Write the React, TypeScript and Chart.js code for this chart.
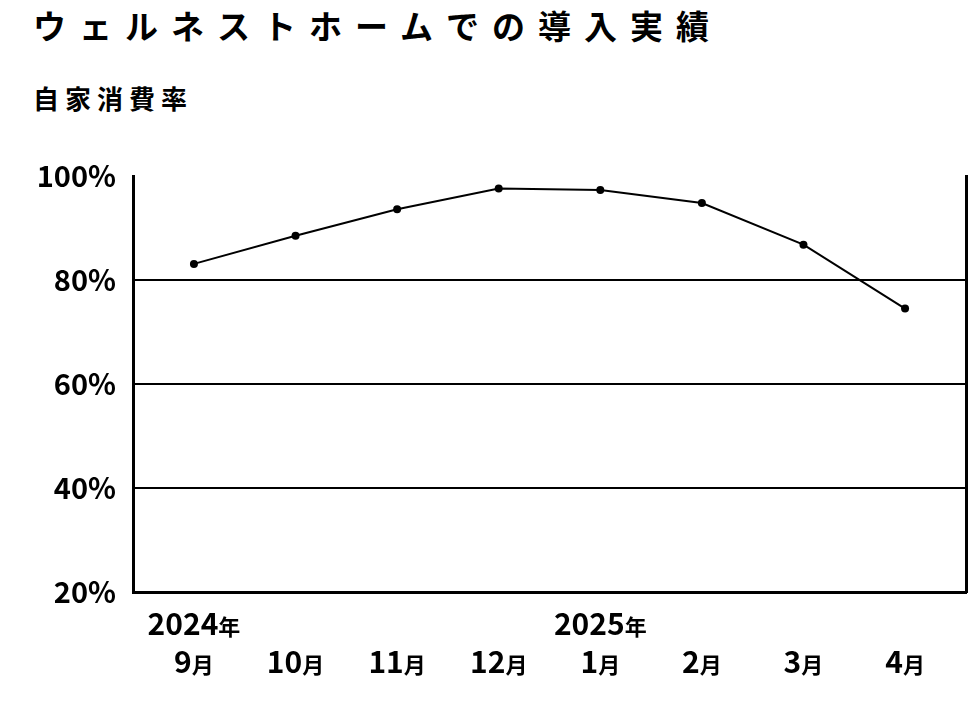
import React, { useEffect, useRef } from "react";
import { Chart, registerables } from "chart.js";

Chart.register(...registerables);

const titleText = "ウェルネストホームでの導入実績";
const subtitleText = "自家消費率";
const monthLabels = ["9", "10", "11", "12", "1", "2", "3", "4"];
const yearLabels = ["2024", "", "", "", "2025", "", "", ""];
const selfConsumption = [83.1, 88.5, 93.6, 97.6, 97.3, 94.8, 86.8, 74.5];
const yTicks = [20, 40, 60, 80, 100];

const FONT = '"Noto Sans CJK JP", "Noto Sans", sans-serif';

export default function App() {
  const ref = useRef<HTMLCanvasElement | null>(null);

  useEffect(() => {
    document.body.style.margin = "0";
    const canvas = ref.current;
    if (!canvas) return;

    const labelPlugin = {
      id: "mixedLabels",
      afterDraw(chart: any) {
        const ctx = chart.ctx;
        const xs = chart.scales.x;
        ctx.save();
        ctx.fillStyle = "#000";
        ctx.textBaseline = "alphabetic";
        const drawMixed = (num: string, unit: string, cx: number, base: number) => {
          ctx.font = `bold 30px ${FONT}`;
          const w1 = ctx.measureText(num).width;
          ctx.font = `bold 22px ${FONT}`;
          const w2 = ctx.measureText(unit).width;
          const start = cx - (w1 + w2) / 2;
          ctx.font = `bold 30px ${FONT}`;
          ctx.textAlign = "left";
          ctx.fillText(num, start, base);
          ctx.font = `bold 22px ${FONT}`;
          ctx.fillText(unit, start + w1, base);
        };
        monthLabels.forEach((m, i) => {
          const cx = xs.getPixelForValue(i);
          if (yearLabels[i]) drawMixed(yearLabels[i], "年", cx, 635);
          drawMixed(m, "月", cx, 673);
        });
        ctx.restore();
      },
    };

    const chart = new Chart(canvas, {
      type: "line",
      data: {
        datasets: [
          {
            data: selfConsumption.map((v, i) => ({ x: i, y: v })),
            borderColor: "#000",
            borderWidth: 2,
            backgroundColor: "#000",
            pointBackgroundColor: "#000",
            pointBorderColor: "#000",
            pointRadius: 4,
            pointBorderWidth: 0,
            tension: 0,
            yAxisID: "y",
          },
        ],
      },
      options: {
        animation: false,
        responsive: false,
        maintainAspectRatio: false,
        layout: { padding: { top: 176, right: 2, bottom: 0, left: 0 }, autoPadding: false },
        plugins: { legend: { display: false }, tooltip: { enabled: false }, title: { display: false } },
        scales: {
          x: {
            type: "linear",
            min: -0.6,
            max: 7.6,
            grid: { display: false },
            border: { display: true, color: "#000", width: 3 },
            ticks: { display: false },
            afterFit: (axis: any) => {
              axis.height = 134;
            },
          },
          y: {
            type: "linear",
            position: "left",
            min: yTicks[0],
            max: yTicks[yTicks.length - 1],
            afterBuildTicks: (axis: any) => {
              axis.ticks = yTicks.map((v) => ({ value: v }));
            },
            grid: {
              drawTicks: false,
              lineWidth: 2,
              color: (c: any) =>
                c.tick && (c.tick.value === 100 || c.tick.value === 20) ? "rgba(0,0,0,0)" : "#000",
            },
            border: { display: true, color: "#000", width: 3 },
            ticks: {
              padding: 17,
              color: "#000",
              font: { family: FONT, size: 29, weight: "bold" },
              callback: (v: any) => `${v}%`,
            },
            afterFit: (axis: any) => {
              axis.width = 133;
            },
          },
          y2: {
            type: "linear",
            position: "right",
            grid: { display: false },
            ticks: { display: false },
            border: { display: true, color: "#000", width: 3 },
            afterFit: (axis: any) => {
              axis.width = 0;
            },
          },
        },
      },
      plugins: [labelPlugin],
    });
    return () => chart.destroy();
  }, []);

  return (
    <div style={{ position: "relative", width: 968, height: 726, background: "#fff", overflow: "hidden" }}>
      <div
        style={{
          position: "absolute",
          left: 33,
          top: 3,
          fontFamily: FONT,
          fontWeight: 700,
          fontSize: 33,
          letterSpacing: "13px",
          lineHeight: "44px",
          color: "#000",
          whiteSpace: "nowrap",
        }}
      >
        {titleText}
      </div>
      <div
        style={{
          position: "absolute",
          left: 33,
          top: 82,
          fontFamily: FONT,
          fontWeight: 700,
          fontSize: 26,
          letterSpacing: "6px",
          lineHeight: "32px",
          color: "#000",
          whiteSpace: "nowrap",
        }}
      >
        {subtitleText}
      </div>
      <canvas ref={ref} width={968} height={726} style={{ position: "absolute", left: 0, top: 0 }} />
    </div>
  );
}
